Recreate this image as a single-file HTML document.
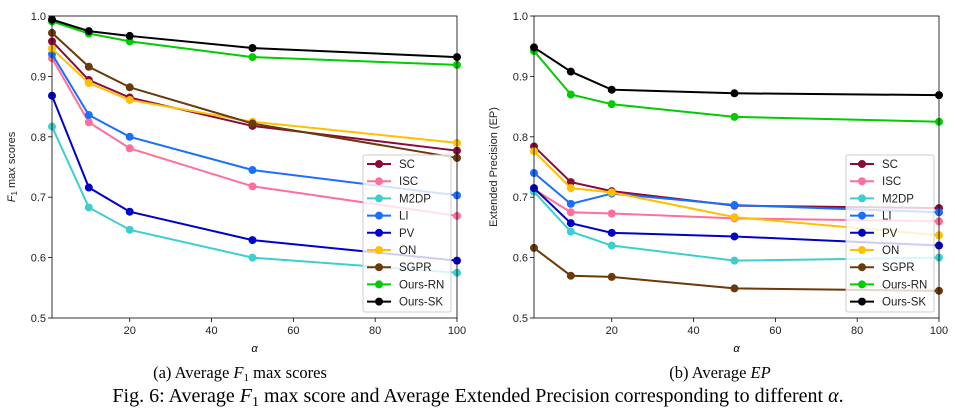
<!DOCTYPE html>
<html><head><meta charset="utf-8"><style>
body{margin:0;background:#fff;width:955px;height:413px;overflow:hidden;font-family:"Liberation Sans",sans-serif}
svg{position:absolute;left:0;top:0}
</style></head><body>
<svg width="955" height="413" id="fig">
<g id="cap" font-family="Liberation Serif, serif" fill="#000">
<text x="240" y="378" font-size="16.5" text-anchor="middle">(a) Average <tspan font-style="italic">F</tspan><tspan font-size="11" dy="3">1</tspan><tspan dy="-3"> max scores</tspan></text>
<text x="720" y="378" font-size="16.5" text-anchor="middle">(b) Average <tspan font-style="italic">EP</tspan></text>
<text x="478" y="402" font-size="20" text-anchor="middle">Fig. 6: Average <tspan font-style="italic">F</tspan><tspan font-size="14" dy="4">1</tspan><tspan dy="-4"> max score and Average Extended Precision corresponding to different </tspan><tspan font-style="italic">α</tspan>.</text>
</g>
</svg>
<script>
const xs=[1,10,20,50,100];
const names=["SC","ISC","M2DP","LI","PV","ON","SGPR","Ours-RN","Ours-SK"];
const colors=["#8b0a3a","#ff6f9a","#3ccfcf","#1a6fff","#0000cc","#ffc000","#6b3a0a","#00cc00","#000000"];
const f1SC=[0.958,0.894,0.865,0.818,0.777];
const f1ISC=[0.930,0.824,0.781,0.718,0.669];
const f1M2DP=[0.817,0.683,0.646,0.600,0.575];
const f1LI=[0.937,0.836,0.800,0.745,0.703];
const f1PV=[0.868,0.716,0.676,0.629,0.595];
const f1ON=[0.946,0.889,0.861,0.825,0.790];
const f1SGPR=[0.972,0.916,0.882,0.822,0.765];
const f1RN=[0.991,0.971,0.958,0.932,0.919];
const f1SK=[0.994,0.975,0.967,0.947,0.932];
const epSC=[0.784,0.725,0.710,0.686,0.682];
const epISC=[0.713,0.675,0.673,0.665,0.660];
const epM2DP=[0.709,0.643,0.620,0.595,0.600];
const epLI=[0.740,0.689,0.706,0.687,0.675];
const epPV=[0.715,0.657,0.641,0.635,0.620];
const epON=[0.776,0.715,0.708,0.667,0.637];
const epSGPR=[0.616,0.570,0.568,0.549,0.545];
const epRN=[0.942,0.870,0.854,0.833,0.825];
const epSK=[0.948,0.908,0.878,0.872,0.869];
const yTicks=["0.5","0.6","0.7","0.8","0.9","1.0"];
const xTicks=[20,40,60,80,100];
const NS="http://www.w3.org/2000/svg";
const svg=document.getElementById('fig');
function mk(t,a,p){const e=document.createElementNS(NS,t);for(const k in a)e.setAttribute(k,a[k]);(p||svg).appendChild(e);return e;}
function panel(L,R,T,B,series,ylab,pname,lx){
  const g=mk('g',{});
  
  
  const sx=v=>L+(v-1)/(99)*(R-L), sy=v=>B-(v-0.5)/0.5*(B-T);
  yTicks.forEach(t=>{const y=sy(+t);
    mk('line',{x1:L-4,x2:L,y1:y,y2:y,stroke:'#000','stroke-width':0.8},g);
    const tx=mk('text',{x:L-6,y:y+4,'font-size':11,'text-anchor':'end',fill:'#222'},g);tx.textContent=t;
    
    });
  xTicks.forEach(t=>{const x=sx(t);
    mk('line',{x1:x,x2:x,y1:B,y2:B+4,stroke:'#000','stroke-width':0.8},g);
    const tx=mk('text',{x:x,y:B+16,'font-size':11,'text-anchor':'middle',fill:'#222'},g);tx.textContent=t;
    
    });
  series.forEach((s,i)=>{
    const pts=xs.map((x,j)=>sx(x)+','+sy(s[j])).join(' ');
    const pl=mk('polyline',{points:pts,fill:'none',stroke:colors[i],'stroke-width':2},g);
    
    
    xs.forEach((x,j)=>{const c=mk('circle',{cx:sx(x),cy:sy(s[j]),r:4,fill:colors[i]},g);
      
      });
  });
  mk('rect',{x:L,y:T,width:R-L,height:B-T,fill:'none',stroke:'#000','stroke-width':0.8},g);
  const xl=mk('text',{x:(L+R)/2,y:352,'font-size':11,'font-style':'italic','text-anchor':'middle'},g);xl.textContent='α';
  
  
  const yl=mk('text',{x:0,y:0,'font-size':11,'text-anchor':'middle',transform:`translate(${L-37},${(T+B)/2}) rotate(-90)`,fill:'#222'},g);yl.innerHTML=ylab;
  
  
  const lg=mk('g',{},g);
  
  
  mk('rect',{x:lx,y:155,width:88,height:157,rx:2,fill:'rgba(255,255,255,0.8)',stroke:'#ccc'},lg);
  names.forEach((n,i)=>{const y=164+i*17.2;
    mk('line',{x1:lx+4,x2:lx+28,y1:y,y2:y,stroke:colors[i],'stroke-width':2},lg);
    mk('circle',{cx:lx+16,cy:y,r:4,fill:colors[i]},lg);
    const t=mk('text',{x:lx+36,y:y+4,'font-size':11.5,fill:'#222'},lg);t.textContent=n;
    
    });
}
panel(52,457,16,318,[f1SC,f1ISC,f1M2DP,f1LI,f1PV,f1ON,f1SGPR,f1RN,f1SK],'<tspan font-style="italic">F</tspan><tspan font-size="8" dy="2">1</tspan><tspan dy="-2"> max scores</tspan>','f1-chart',363);
panel(534,939,16,318,[epSC,epISC,epM2DP,epLI,epPV,epON,epSGPR,epRN,epSK],'Extended Precision (EP)','ep-chart',846);
</script>
</body></html>
